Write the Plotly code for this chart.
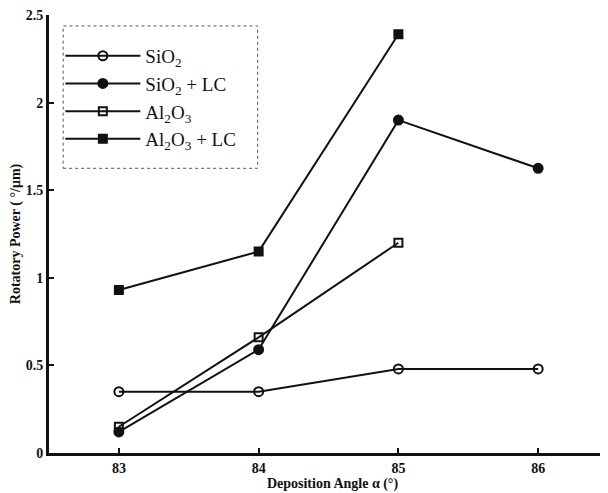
import plotly.graph_objects as go

angles = [83, 84, 85, 86]
sio2 = [0.35, 0.35, 0.48, 0.48]
sio2_lc = [0.12, 0.59, 1.90, 1.625]
angles_al = [83, 84, 85]
al2o3 = [0.15, 0.66, 1.20]
al2o3_lc = [0.93, 1.15, 2.39]

names = ["SiO<sub>2</sub>", "SiO<sub>2</sub> + LC", "Al<sub>2</sub>O<sub>3</sub>", "Al<sub>2</sub>O<sub>3</sub> + LC"]
xticks = [83, 84, 85, 86]
yticks = [0, 0.5, 1, 1.5, 2, 2.5]
ytick_text = ["0", "0.5", "1", "1.5", "2", "2.5"]

fig = go.Figure()
series = [
    (angles, sio2, names[0], "circle-open"),
    (angles, sio2_lc, names[1], "circle"),
    (angles_al, al2o3, names[2], "square-open"),
    (angles_al, al2o3_lc, names[3], "square"),
]
for xs, ys, nm, sym in series:
    fig.add_trace(go.Scatter(
        x=xs, y=ys, name=nm, mode="lines+markers",
        line=dict(color="#111", width=2),
        marker=dict(symbol=sym, size=9 if "circle" in sym else 8, color="#111",
                    line=dict(color="#111", width=2)),
    ))

font_serif = "Liberation Serif, Times New Roman, serif"
fig.update_layout(
    width=608, height=493,
    margin=dict(l=41, r=0, t=7, b=48, autoexpand=False),
    plot_bgcolor="white", paper_bgcolor="white",
    font=dict(family=font_serif, color="#111"),
    showlegend=True,
    legend=dict(x=0.02, y=0.95, xanchor="left", yanchor="top",
                bgcolor="rgba(0,0,0,0)", borderwidth=0,
                font=dict(size=19, family=font_serif),
                itemwidth=75, tracegroupgap=0),
    xaxis=dict(range=[82.5, 86.557], tickvals=xticks, ticktext=[f"<b>{t}</b>" for t in xticks],
               ticks="inside", ticklen=5, tickwidth=2, tickcolor="#111", automargin=False,
               showline=True, linecolor="#111", linewidth=3, showgrid=False, zeroline=False,
               tickfont=dict(size=14, family=font_serif), ticklabeloverflow="allow",
               title=dict(text="<b>Deposition Angle α (°)</b>", font=dict(size=14, family=font_serif), standoff=1)),
    yaxis=dict(range=[0, 2.5], tickvals=yticks, ticktext=[f"<b>{t}</b>" for t in ytick_text],
               ticks="inside", ticklen=5, tickwidth=2, tickcolor="#111", automargin=False,
               showline=True, linecolor="#111", linewidth=3, showgrid=False, zeroline=False,
               tickfont=dict(size=14, family=font_serif), ticklabeloverflow="allow",
               title=dict(text="<b>Rotatory Power ( °/μm)</b>", font=dict(size=14, family=font_serif), standoff=4)),
)
fig.add_shape(type="rect", xref="paper", yref="paper",
              x0=0.025, x1=0.368, y0=0.65, y1=0.975,
              line=dict(color="#555", width=1, dash="dot"))
fig.write_html("out.html")
